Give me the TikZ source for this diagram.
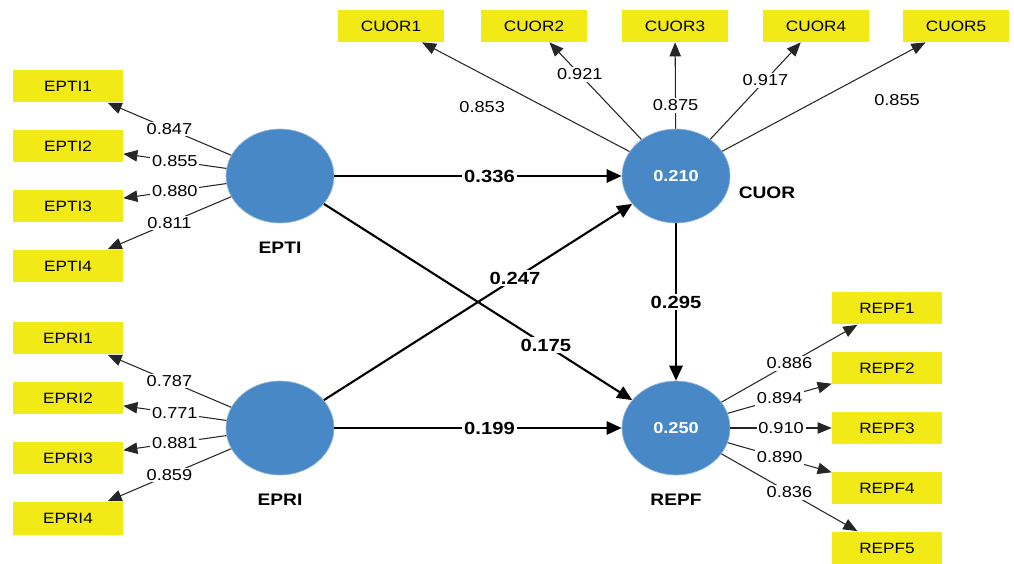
\documentclass[tikz,border=0pt]{standalone}
\usepackage{fontspec}
\setmainfont{Liberation Sans}[FakeStretch=1.15]
\usetikzlibrary{arrows.meta,shapes.geometric}
\definecolor{lvblue}{RGB}{72,136,199}
\definecolor{indyellow}{RGB}{242,234,22}

\begin{document}
\begin{tikzpicture}[x=0.02cm,y=-0.02cm,
    ind/.style={fill=indyellow,minimum width=2.2cm,minimum height=0.66cm,inner sep=0pt,font=\fontsize{8.5}{10}\selectfont},
    cuind/.style={ind,minimum width=2.12cm,minimum height=0.64cm},
    lv/.style={ellipse,fill=lvblue,draw=lvblue!60!white,minimum width=2.16cm,minimum height=1.88cm,inner sep=0pt,text=white,font=\fontsize{9}{11}\selectfont\bfseries},
    lvname/.style={font=\fontsize{9.5}{11}\selectfont\bfseries},
    loading/.style={draw=black!85,line width=0.6pt,-{Triangle[length=8pt,width=6.5pt]}},
    structural/.style={line width=1.2pt,-{Triangle[length=8.5pt,width=7.5pt]}},
    loadval/.style={fill=white,inner sep=1pt,font=\fontsize{9}{11}\selectfont},
    pathval/.style={fill=white,inner sep=1pt,font=\fontsize{10}{12}\selectfont\bfseries}]
    \useasboundingbox (0,0) rectangle (1014,564);
    % latent variables
    \node[lv] (epti) at (280,176) {};
    \node[lv] (epri) at (280,428) {};
    \node[lv] (cuor) at (676,176) {0.210};
    \node[lv] (repf) at (676,428) {0.250};
    \node[lvname] (eptiname) at (280,248) {EPTI};
    \node[lvname] (epriname) at (280,500) {EPRI};
    \node[lvname] (cuorname) at (767,193) {CUOR};
    \node[lvname] (repfname) at (676,500) {REPF};
    % structural paths
    \draw[structural] (epti) -- node[pathval,pos=0.54] {0.336} (cuor);
    \draw[structural] (epri) -- node[pathval,pos=0.54] {0.199} (repf);
    \draw[structural] (epti) -- node[pathval,pos=0.72] {0.175} (repf);
    \draw[structural] (epri) -- node[pathval,pos=0.62] {0.247} (cuor);
    \draw[structural] (cuor) -- node[pathval] {0.295} (repf);
    % indicators
    \foreach \i/\y/\v in {1/86/0.847,2/146/0.855,3/206/0.880,4/266/0.811}{
        \node[ind] (EPTI\i) at (68,\y) {EPTI\i};
        \draw[loading] (epti) -- node[loadval] {\v} (EPTI\i);
    }
    \foreach \i/\y/\v in {1/338/0.787,2/398/0.771,3/458/0.881,4/518/0.859}{
        \node[ind] (EPRI\i) at (68,\y) {EPRI\i};
        \draw[loading] (epri) -- node[loadval] {\v} (EPRI\i);
    }
    \foreach \i/\x/\v/\p/\s in {1/391/0.853/0.71/33,2/534/0.921/0.67/0,3/675/0.875/0.27/0,4/816/0.917/0.61/0,5/956/0.855/0.86/42}{
        \node[cuind] (CUOR\i) at (\x,26) {CUOR\i};
        \draw[loading] (cuor) -- node[loadval,pos=\p,yshift=-\s*0.02cm] {\v} (CUOR\i);
    }
    \foreach \i/\y/\v in {1/308/0.886,2/368/0.894,3/428/0.910,4/488/0.890,5/548/0.836}{
        \node[ind] (REPF\i) at (887,\y) {REPF\i};
        \draw[loading] (repf) -- node[loadval] {\v} (REPF\i);
    }
\end{tikzpicture}
\end{document}
